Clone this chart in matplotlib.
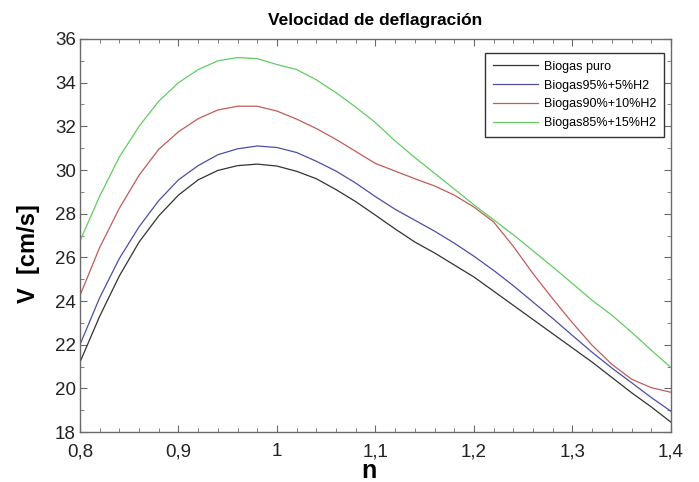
import matplotlib
matplotlib.use('Agg')
import matplotlib.pyplot as plt
from matplotlib.ticker import MultipleLocator, FuncFormatter

# equivalence ratio
n = [0.80, 0.82, 0.84, 0.86, 0.88, 0.90, 0.92, 0.94, 0.96, 0.98,
     1.00, 1.02, 1.04, 1.06, 1.08, 1.10, 1.12, 1.14, 1.16, 1.18,
     1.20, 1.22, 1.24, 1.26, 1.28, 1.30, 1.32, 1.34, 1.36, 1.38, 1.40]

biogas_puro = [21.2, 23.3, 25.15, 26.7, 27.9, 28.85, 29.55, 29.98, 30.2, 30.27,
               30.18, 29.94, 29.6, 29.1, 28.55, 27.93, 27.3, 26.7, 26.2, 25.65,
               25.1, 24.45, 23.8, 23.15, 22.5, 21.85, 21.2, 20.5, 19.8, 19.15, 18.45]

biogas_5 = [22.0, 24.15, 25.95, 27.4, 28.6, 29.55, 30.2, 30.7, 30.97, 31.1,
            31.03, 30.8, 30.4, 29.95, 29.4, 28.78, 28.2, 27.7, 27.2, 26.65,
            26.05, 25.4, 24.7, 23.95, 23.2, 22.42, 21.65, 20.93, 20.26, 19.58, 18.95]

biogas_10 = [24.25, 26.45, 28.25, 29.76, 30.95, 31.75, 32.35, 32.75, 32.92, 32.92,
             32.7, 32.33, 31.9, 31.4, 30.85, 30.3, 29.95, 29.6, 29.27, 28.85,
             28.3, 27.62, 26.5, 25.25, 24.1, 23.0, 21.97, 21.1, 20.42, 20.03, 19.82]

biogas_15 = [26.75, 28.8, 30.6, 32.0, 33.15, 34.0, 34.6, 35.0, 35.15, 35.1,
             34.83, 34.6, 34.13, 33.54, 32.88, 32.17, 31.33, 30.57, 29.85, 29.13,
             28.4, 27.72, 27.03, 26.3, 25.56, 24.8, 24.03, 23.35, 22.57, 21.75, 20.95]

labels = ['Biogas puro', 'Biogas95%+5%H2', 'Biogas90%+10%H2', 'Biogas85%+15%H2']
colors = ['#333333', '#4d4da8', '#c25b5b', '#62cc62']

plt.rcParams['font.family'] = 'Liberation Sans'

fig = plt.figure(figsize=(6.99, 4.82), dpi=100)
ax = fig.add_axes([0.1144, 0.1037, 0.8455, 0.8154])

for ys, lab, c in zip([biogas_puro, biogas_5, biogas_10, biogas_15], labels, colors):
    ax.plot(n, ys, color=c, lw=0.9, label=lab)

ax.set_xlim(0.8, 1.4)
ax.set_ylim(18, 36)
ax.xaxis.set_major_locator(MultipleLocator(0.1))
ax.xaxis.set_minor_locator(MultipleLocator(0.02))
ax.yaxis.set_major_locator(MultipleLocator(2))
ax.yaxis.set_minor_locator(MultipleLocator(1))
ax.xaxis.set_major_formatter(FuncFormatter(lambda v, p: ('%g' % round(v, 2)).replace('.', ',')))

for sp in ax.spines.values():
    sp.set_color('#6a6a6a')
    sp.set_linewidth(1.0)
ax.tick_params(which='both', direction='in', top=True, right=True, color='#6a6a6a')
ax.tick_params(which='major', length=5, labelsize=13.5, labelcolor='#222222')
ax.tick_params(which='minor', length=3)
ax.tick_params(axis='x', which='major', pad=8)
ax.tick_params(axis='y', which='major', pad=3)

ax.set_title('Velocidad de deflagración', fontsize=12.5, fontweight='bold', pad=10)
ax.set_xlabel('n', fontsize=18, fontweight='bold')
ax.set_ylabel('V  [cm/s]', fontsize=17, fontweight='bold')
ax.xaxis.set_label_coords(0.489, -0.068)
ax.yaxis.set_label_coords(-0.068, 0.453)

leg = ax.legend(loc='upper right', bbox_to_anchor=(0.988, 0.964), borderaxespad=0,
                fontsize=9, fancybox=False, framealpha=1, edgecolor='#333333',
                handlelength=3.6, handletextpad=0.5, labelspacing=0.55, borderpad=0.6)
leg.get_frame().set_linewidth(1.0)

plt.savefig('out.png', dpi=100)
